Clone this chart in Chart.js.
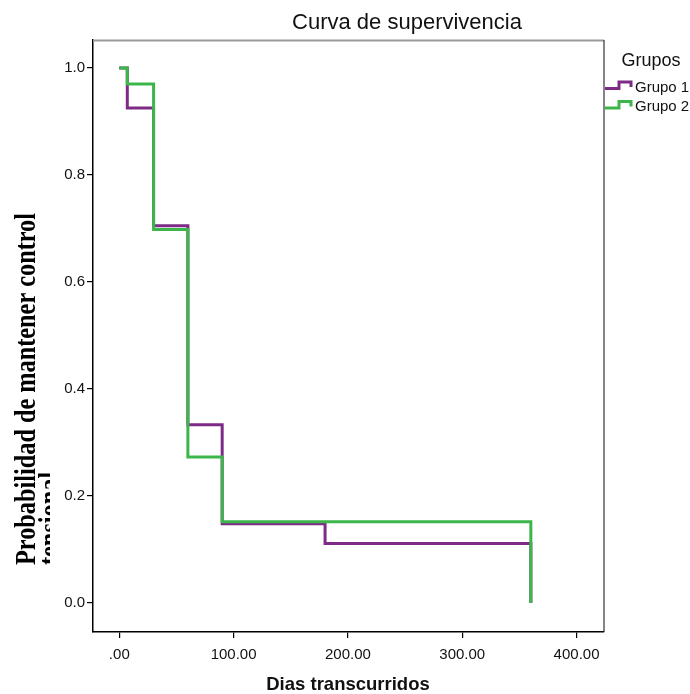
<!DOCTYPE html>
<html>
<head>
<meta charset="utf-8">
<script src="https://cdn.jsdelivr.net/npm/chart.js@4/dist/chart.umd.min.js"></script>
<style>
  body { margin: 0; background: #fff; }
  #wrap { width: 690px; height: 694px; position: relative; }
</style>
</head>
<body>
<div id="wrap"><canvas id="survChart"></canvas></div>
<script>
// Kaplan-Meier steps
const dias1 = [0, 7, 30, 60, 90, 180, 360];
const grupo1 = [1.0, 0.925, 0.705, 0.333, 0.148, 0.111, 0.0];
const dias2 = [0, 7, 30, 60, 90, 360];
const grupo2 = [1.0, 0.970, 0.698, 0.273, 0.152, 0.0];

const xTicks = [0, 100, 200, 300, 400];
const yTicks = [0, 0.2, 0.4, 0.6, 0.8, 1.0];

const titulo = "Curva de supervivencia";
const tituloX = "Dias transcurridos";
const tituloY = ["Probabilidad de mantener control", "tensional"];
const leyendaTitulo = "Grupos";
const grupos = ["Grupo 1", "Grupo 2"];
const colores = ["#7e2b87", "#3cb54b"];

const sans = "'Liberation Sans', Arial, sans-serif";

function toPoints(xs, ys) {
    return xs.map((x, i) => ({ x: x, y: ys[i] }));
}

// titles, frame and legend
const decor = {
    id: "decor",
    afterDraw(chart) {
        const ctx = chart.ctx;
        const a = chart.chartArea;
        ctx.save();

        // frame top / right
        ctx.strokeStyle = "#9a9a9a";
        ctx.lineWidth = 2;
        ctx.beginPath();
        ctx.moveTo(a.left, a.top + 0.5);
        ctx.lineTo(a.right, a.top + 0.5);
        ctx.stroke();
        ctx.strokeStyle = "#333";
        ctx.lineWidth = 1.2;
        ctx.beginPath();
        ctx.moveTo(a.right, a.top);
        ctx.lineTo(a.right, a.bottom);
        ctx.stroke();

        // chart title
        ctx.fillStyle = "#111";
        ctx.font = "22px " + sans;
        ctx.textAlign = "center";
        ctx.textBaseline = "alphabetic";
        ctx.fillText(titulo, 407, 29);

        // x title
        ctx.font = "bold 18.5px " + sans;
        ctx.fillText(tituloX, 348, 690);

        // legend
        ctx.font = "18px " + sans;
        ctx.fillText(leyendaTitulo, 651, 66);
        ctx.font = "15px " + sans;
        ctx.textAlign = "left";
        grupos.forEach((g, i) => {
            const y = 82 + i * 19.5;
            ctx.strokeStyle = colores[i];
            ctx.lineWidth = 3;
            ctx.beginPath();
            ctx.moveTo(605, y + 6.5);
            ctx.lineTo(619, y + 6.5);
            ctx.lineTo(619, y);
            ctx.lineTo(631, y);
            ctx.lineTo(631, y + 5);
            ctx.stroke();
            ctx.fillStyle = "#111";
            ctx.fillText(g, 635, y + 9.5);
        });

        // y title, bold serif, second line cut off
        ctx.beginPath();
        ctx.rect(0, 0, 50, 694);
        ctx.clip();
        ctx.translate(0, 565);
        ctx.rotate(-Math.PI / 2);
        ctx.font = "bold 30px 'Liberation Serif', 'Times New Roman', serif";
        const sx = 352 / ctx.measureText(tituloY[0]).width;
        ctx.scale(sx, 1);
        ctx.fillStyle = "#000";
        ctx.fillText(tituloY[0], 0, 35);
        ctx.fillText(tituloY[1], 0, 59);
        ctx.restore();
    }
};

const ctx1 = document.getElementById("survChart").getContext("2d");

new Chart(ctx1, {
    type: "line",
    data: {
        datasets: [
            {
                label: grupos[0],
                data: toPoints(dias1, grupo1),
                borderColor: colores[0],
                borderWidth: 3,
                stepped: true,
                pointRadius: 0,
                fill: false,
                order: 1
            },
            {
                label: grupos[1],
                data: toPoints(dias2, grupo2),
                borderColor: colores[1],
                borderWidth: 3,
                stepped: true,
                pointRadius: 0,
                fill: false,
                order: 0
            }
        ]
    },
    options: {
        responsive: true,
        maintainAspectRatio: false,
        animation: false,
        events: [],
        layout: {
            padding: { left: 0, top: 40, right: 86, bottom: 0 }
        },
        plugins: {
            legend: { display: false },
            tooltip: { enabled: false },
            title: { display: false }
        },
        scales: {
            x: {
                type: "linear",
                min: -23,
                max: 424,
                afterFit(s) { s.height = 62; },
                afterBuildTicks(s) { s.ticks = xTicks.map(v => ({ value: v })); },
                grid: { drawOnChartArea: false, drawTicks: true, tickLength: 6, color: "#000", lineWidth: 1.2 },
                border: { display: true, color: "#000", width: 1.5 },
                ticks: {
                    color: "#111",
                    font: { family: sans, size: 15 },
                    padding: 8,
                    maxRotation: 0,
                    autoSkip: false,
                    callback: v => v === 0 ? ".00" : v.toFixed(2)
                }
            },
            y: {
                type: "linear",
                min: -0.0542,
                max: 1.0523,
                afterFit(s) { s.width = 93; },
                afterBuildTicks(s) { s.ticks = yTicks.map(v => ({ value: v })); },
                grid: { drawOnChartArea: false, drawTicks: true, tickLength: 6, color: "#000", lineWidth: 1.2 },
                border: { display: true, color: "#000", width: 1.5 },
                ticks: {
                    color: "#111",
                    font: { family: sans, size: 15 },
                    padding: 2,
                    autoSkip: false,
                    callback: v => v.toFixed(1)
                }
            }
        }
    },
    plugins: [decor]
});
</script>
</body>
</html>
